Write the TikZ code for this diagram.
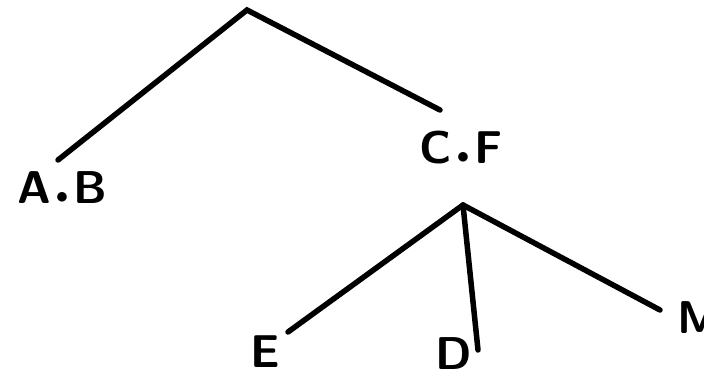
\documentclass[tikz,border=0pt]{standalone}
\usetikzlibrary{positioning}
\begin{document}
\begin{tikzpicture}[x=1pt, y=-1pt,
  branch/.style={line width=5.5pt, line cap=round},
  lbl/.style={font=\sffamily\bfseries\fontsize{46}{46}\selectfont, inner sep=0pt}]
  \useasboundingbox (0,0) rectangle (704,378);
  % upper fork
  \coordinate (top) at (247,10);
  \coordinate (abend) at (58,160);
  \coordinate (cfend) at (440,110);
  \node[lbl] (ab) at (62,188) {A\kern5pt$\bullet$\kern5pt B};
  \node[lbl] (cf) at (461,148) {C\kern5pt$\bullet$\kern5pt F};
  \draw[branch] (abend) -- (top) -- (cfend);
  % lower fork under C.F
  \coordinate (cfroot) at (463,205);
  \coordinate (eend) at (288,332);
  \coordinate (dend) at (478,350);
  \coordinate (mend) at (660,310);
  \node[lbl] (e) at (265,352) {E};
  \node[lbl] (d) at (454,354) {D};
  \node[lbl, anchor=west] (m) at (677,318) {M};
  \draw[branch] (cfroot) -- (eend);
  \draw[branch] (cfroot) -- (dend);
  \draw[branch] (cfroot) -- (mend);
\end{tikzpicture}
\end{document}
